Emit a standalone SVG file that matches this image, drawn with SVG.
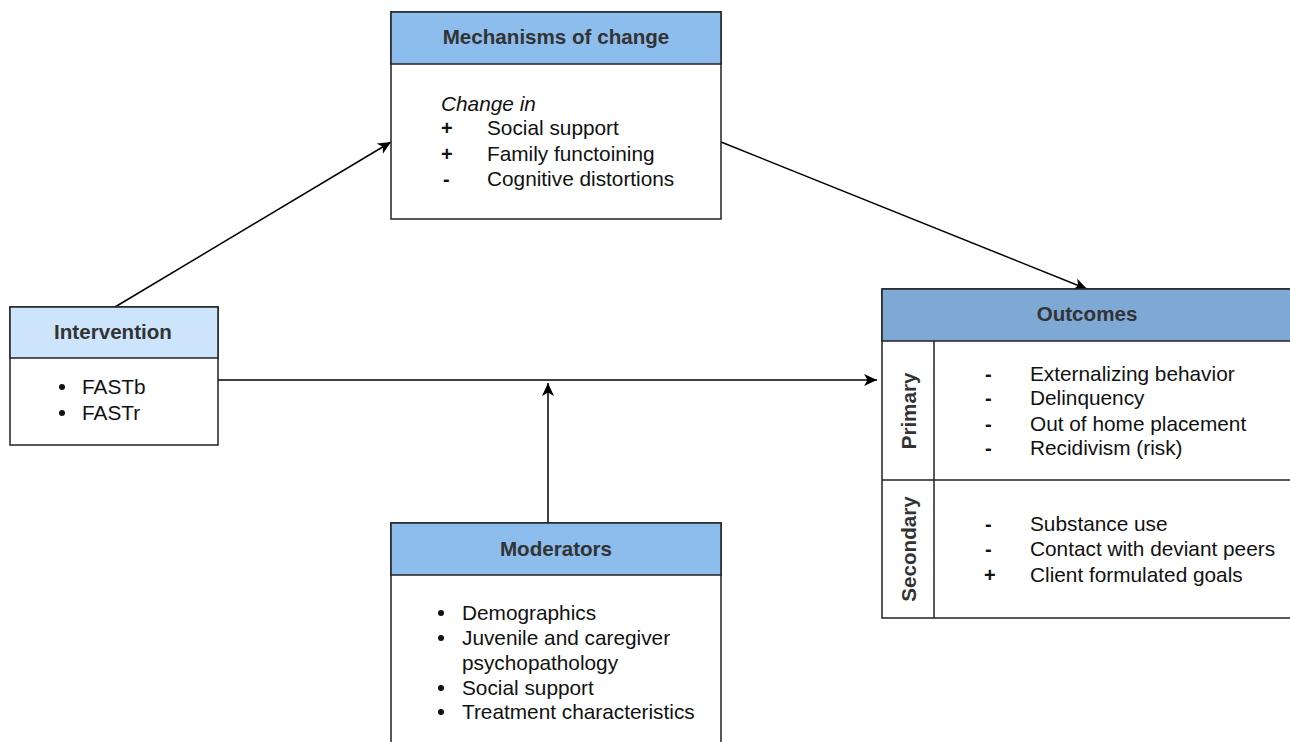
<svg xmlns="http://www.w3.org/2000/svg" width="1290" height="742" viewBox="0 0 1290 742">
<defs>
<marker id="ah" markerWidth="14" markerHeight="14" refX="13" refY="6" orient="auto" markerUnits="userSpaceOnUse">
<path d="M0,0 L13,6 L0,12 L3.5,6 Z" fill="#000"/>
</marker>
<style>
.box{fill:#fff;stroke:#222;stroke-width:1.5}
.hd{stroke:#222;stroke-width:1.5}
.ht{font-family:"Liberation Sans",Arial,sans-serif;font-size:20.6px;font-weight:bold;fill:#333;text-anchor:middle}
.t{font-family:"Liberation Sans",Arial,sans-serif;font-size:20.8px;fill:#111}
.sym{font-family:"Liberation Sans",Arial,sans-serif;font-size:20px;font-weight:bold;fill:#111}
.conn{stroke:#000;stroke-width:1.5;fill:none;marker-end:url(#ah)}
</style>
</defs>
<rect width="1290" height="742" fill="#fff"/>
<g id="connectors">
<line class="conn" x1="115" y1="307" x2="391" y2="142"/>
<line class="conn" x1="721" y1="142" x2="1087" y2="289"/>
<line class="conn" x1="218" y1="380" x2="877" y2="380"/>
<line class="conn" x1="548" y1="523" x2="548" y2="383"/>
</g>
<g id="mechanisms">
<rect class="box" x="391" y="12" width="330" height="207"/>
<rect class="hd" x="391" y="12" width="330" height="52" fill="#8cbdec"/>
<text class="ht" x="556" y="44">Mechanisms of change</text>
<text class="t" x="441" y="111" font-style="italic">Change in</text>
<text class="sym" x="441" y="135">+</text><text class="t" x="487" y="135">Social support</text>
<text class="sym" x="441" y="161">+</text><text class="t" x="487" y="161">Family functoining</text>
<text class="sym" x="443" y="186">-</text><text class="t" x="487" y="186">Cognitive distortions</text>
</g>
<g id="intervention">
<rect class="box" x="10" y="307" width="208" height="138"/>
<rect class="hd" x="10" y="307" width="208" height="51" fill="#cce5fc"/>
<text class="ht" x="113" y="339">Intervention</text>
<circle cx="62" cy="387" r="3" fill="#111"/><text class="t" x="82" y="394">FASTb</text>
<circle cx="62" cy="413" r="3" fill="#111"/><text class="t" x="82" y="420">FASTr</text>
</g>
<g id="outcomes">
<rect class="box" x="882" y="289" width="410" height="329"/>
<rect class="hd" x="882" y="289" width="410" height="52" fill="#7ea9d5"/>
<text class="ht" x="1087" y="321">Outcomes</text>
<line class="hd" x1="934" y1="341" x2="934" y2="618"/>
<line class="hd" x1="882" y1="480" x2="1292" y2="480"/>
<text class="ht" transform="translate(916,411) rotate(-90)">Primary</text>
<text class="ht" transform="translate(916,549) rotate(-90)">Secondary</text>
<text class="sym" x="985" y="381">-</text><text class="t" x="1030" y="381">Externalizing behavior</text>
<text class="sym" x="985" y="405">-</text><text class="t" x="1030" y="405">Delinquency</text>
<text class="sym" x="985" y="431">-</text><text class="t" x="1030" y="431">Out of home placement</text>
<text class="sym" x="985" y="455">-</text><text class="t" x="1030" y="455">Recidivism (risk)</text>
<text class="sym" x="985" y="531">-</text><text class="t" x="1030" y="531">Substance use</text>
<text class="sym" x="985" y="556">-</text><text class="t" x="1030" y="556">Contact with deviant peers</text>
<text class="sym" x="984" y="582">+</text><text class="t" x="1030" y="582">Client formulated goals</text>
</g>
<g id="moderators">
<rect class="box" x="391" y="523" width="330" height="230"/>
<rect class="hd" x="391" y="523" width="330" height="52" fill="#8cbdec"/>
<text class="ht" x="556" y="556">Moderators</text>
<circle cx="441" cy="613" r="3" fill="#111"/><text class="t" x="462" y="620">Demographics</text>
<circle cx="441" cy="638" r="3" fill="#111"/><text class="t" x="462" y="645">Juvenile and caregiver</text>
<text class="t" x="462" y="670">psychopathology</text>
<circle cx="441" cy="688" r="3" fill="#111"/><text class="t" x="462" y="695">Social support</text>
<circle cx="441" cy="712" r="3" fill="#111"/><text class="t" x="462" y="719">Treatment characteristics</text>
</g>
</svg>
